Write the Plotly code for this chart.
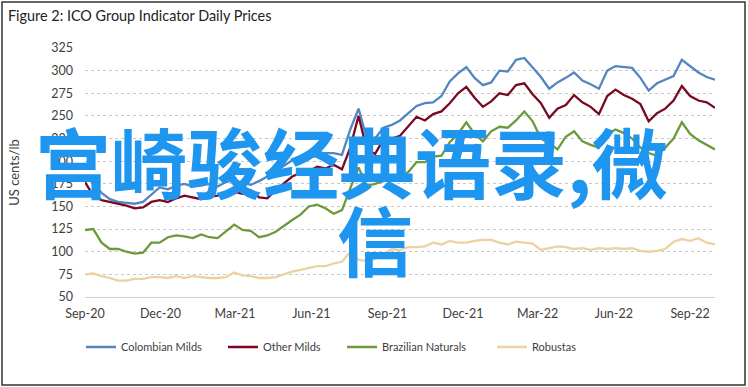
import pandas as pd
import plotly.graph_objects as go

# ---- data (~10-day samples) ----
dates = pd.date_range("2020-09-01", periods=77, freq="10D")

colombian_milds = [185, 175, 165, 158, 155, 154, 153, 155, 163, 171, 169, 173, 175, 172, 173, 175, 172, 177, 179, 176,
                   174, 178, 183, 188, 195, 201, 204, 204, 206, 209, 209, 207, 235, 258, 225, 225, 237, 240, 245, 253,
                   261, 264, 265, 272, 288, 297, 304, 292, 284, 287, 300, 299, 312, 314, 303, 293, 280, 287, 292, 298,
                   289, 285, 280, 300, 305, 304, 303, 292, 278, 286, 290, 294, 312, 305, 298, 293, 290]
other_milds = [177, 162, 157, 155, 153, 151, 148, 149, 155, 157, 155, 159, 162, 160, 158, 161, 162, 165, 166, 164,
               168, 160, 159, 168, 175, 183, 187, 189, 194, 192, 196, 191, 215, 250, 213, 208, 224, 225, 228, 238,
               249, 245, 252, 255, 264, 275, 282, 270, 260, 266, 275, 273, 284, 286, 274, 264, 248, 258, 262, 273,
               265, 260, 252, 272, 279, 273, 269, 263, 244, 253, 258, 267, 283, 272, 267, 265, 259]
brazilian_naturals = [124, 125, 110, 103, 103, 100, 98, 99, 110, 110, 116, 118, 117, 115, 119, 116, 115, 122, 130, 124,
                      123, 116, 118, 122, 129, 135, 141, 150, 152, 148, 142, 146, 170, 193, 173, 175, 178, 181, 182, 188,
                      199, 199, 205, 206, 221, 230, 243, 230, 222, 233, 238, 237, 245, 255, 244, 225, 220, 213, 227, 233,
                      222, 218, 215, 230, 235, 231, 225, 215, 209, 206, 215, 225, 243, 230, 223, 218, 213]
robustas = [75, 76, 73, 71, 68, 68, 70, 70, 72, 72, 71, 73, 71, 73, 72, 71, 71, 72, 77, 74,
            73, 71, 71, 72, 75, 78, 80, 82, 84, 84, 87, 89, 100, 91, 90, 92, 97, 103, 102, 105,
            105, 106, 110, 108, 112, 110, 110, 112, 113, 113, 110, 108, 111, 110, 109, 102, 104, 106, 105, 103,
            104, 102, 104, 103, 104, 103, 104, 101, 100, 101, 103, 111, 114, 112, 115, 110, 108]

series_names = ["Colombian Milds", "Other Milds", "Brazilian Naturals", "Robustas"]
series_values = [colombian_milds, other_milds, brazilian_naturals, robustas]
series_colors = ["#5585c0", "#7a0a22", "#6a9a3a", "#ecd29e"]
legend_ids = ["legend", "legend2", "legend3", "legend4"]
legend_x_px = [81, 223, 342, 492]

y_ticks = list(range(50, 326, 25))

FONT = "Lato, 'Open Sans', sans-serif"
PW, PH, ML, MB = 630, 249, 85, 90

fig = go.Figure()
for name, vals, col, lg in zip(series_names, series_values, series_colors, legend_ids):
    fig.add_trace(go.Scatter(x=dates, y=vals, name=name, mode="lines", legend=lg,
                             line=dict(color=col, width=2.3)))

legend_common = dict(orientation="h", xanchor="left", yanchor="middle", y=-50 / PH,
                     font=dict(size=11, color="#404040"), itemwidth=30,
                     bgcolor="rgba(0,0,0,0)")
legends = {lg: dict(legend_common, x=(px - ML) / PW) for lg, px in zip(legend_ids, legend_x_px)}

fig.update_layout(
    width=748, height=387,
    margin=dict(l=ML, r=33, t=48, b=MB, autoexpand=False),
    paper_bgcolor="white", plot_bgcolor="white",
    font=dict(family=FONT, size=12.5, color="#404040"),
    showlegend=True,
    xaxis=dict(type="date", range=["2020-09-01", "2022-10-01"],
               tick0="2020-09-01", dtick="M3", tickformat="%b-%y",
               showgrid=False, showline=True, linecolor="#d0d0d0", linewidth=1,
               ticks="", ticklabelstandoff=5, zeroline=False, automargin=False,
               tickfont=dict(size=12.5)),
    yaxis=dict(range=[50, 325], tickvals=y_ticks, showgrid=True,
               gridcolor="#c8c8c8", griddash="dot", gridwidth=1, automargin=False,
               showline=False, zeroline=False, ticks="", ticklabelstandoff=11,
               tickfont=dict(size=12.5),
               title=dict(text="US cents/lb", standoff=28, font=dict(size=13, color="#404040"))),
    **legends,
)

# frame and title
fig.add_shape(type="rect", xref="paper", yref="paper",
              x0=-83 / PW, x1=660 / PW, y0=-88 / PH, y1=295 / PH,
              line=dict(color="#333333", width=1.5), fillcolor="rgba(0,0,0,0)", layer="below")
fig.add_annotation(text="Figure 2: ICO Group Indicator Daily Prices", xref="paper", yref="paper",
                   x=-79 / PW, y=281 / PH, xanchor="left", yanchor="middle", showarrow=False,
                   font=dict(family=FONT, size=14.4, color="#222222"))

# overlaid watermark text
fig.add_annotation(text="宫崎骏经典语录,微", xref="paper", yref="paper",
                   x=266.5 / PW, y=137 / PH, xanchor="center", yanchor="middle", showarrow=False,
                   font=dict(family="Noto Sans CJK SC", size=76, color="#1e96f0", weight="bold"))
fig.add_annotation(text="信", xref="paper", yref="paper",
                   x=290 / PW, y=59 / PH, xanchor="center", yanchor="middle", showarrow=False,
                   font=dict(family="Noto Sans CJK SC", size=76, color="#1e96f0", weight="bold"))

fig.write_html("out.html", config={"displayModeBar": False},
               post_script="document.body.style.margin='0';document.body.style.overflow='hidden';")
